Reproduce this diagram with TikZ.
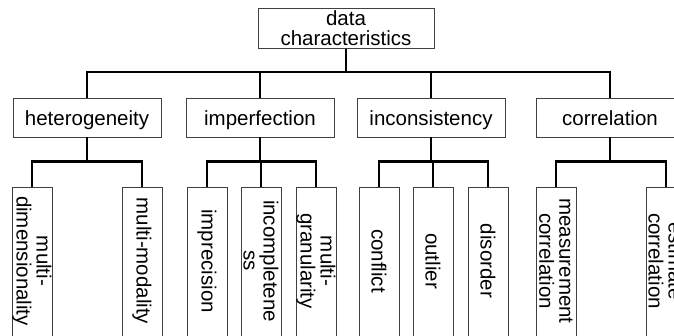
\documentclass[tikz,border=0pt]{standalone}
\usepackage{fontspec}
\setmainfont{Liberation Sans}
\begin{document}
\begin{tikzpicture}[x=1pt,y=-1pt,
  txt/.style={font=\fontsize{20.5}{20}\selectfont},
  box/.style={txt,draw=black!75,line width=0.8pt,inner sep=0pt,align=center},
  topbox/.style={box,minimum width=176pt,minimum height=40pt},
  catbox/.style={box,minimum width=148pt,minimum height=39pt,text height=20pt,text depth=4pt},
  leafbox/.style={draw=black!75,line width=0.8pt,minimum width=40pt,minimum height=170pt,anchor=north,inner sep=0pt},
  leaftext/.style={txt,rotate=-90,align=center,inner sep=0pt},
  conn/.style={line width=2.3pt,black}]
\useasboundingbox (0,0) rectangle (674,336);
\clip (0,0) rectangle (674,336);

\node[topbox] (root) at (346,28.5) {data\\characteristics};
\node[catbox] (het) at (87,117.5) {heterogeneity};
\node[catbox] (imp) at (260,117.5) {imperfection};
\node[catbox] (inc) at (431,117.5) {inconsistency};
\node[catbox] (cor) at (610,117.5) {correlation};

% leaves of heterogeneity
\node[leafbox] (l1) at (32,187) {};
\node[leaftext] (t1) at (32,261) {multi-\\dimensionality};
\node[leafbox] (l2) at (142,187) {};
\node[leaftext] (t2) at (142,261) {multi-modality};
% leaves of imperfection
\node[leafbox] (l3) at (207,187) {};
\node[leaftext] (t3) at (207,261) {imprecision};
\node[leafbox] (l4) at (261,187) {};
\node[leaftext] (t4) at (261,261) {incompletene\\ss};
\node[leafbox] (l5) at (316,187) {};
\node[leaftext] (t5) at (316,261) {multi-\\granularity};
% leaves of inconsistency
\node[leafbox] (l6) at (379,187) {};
\node[leaftext] (t6) at (379,261) {conflict};
\node[leafbox] (l7) at (433,187) {};
\node[leaftext] (t7) at (433,261) {outlier};
\node[leafbox] (l8) at (488,187) {};
\node[leaftext] (t8) at (488,261) {disorder};
% leaves of correlation
\node[leafbox] (l9) at (556,187) {};
\node[leaftext] (t9) at (556,261) {measurement\\correlation};
\node[leafbox] (l10) at (666,187) {};
\node[leaftext] (t10) at (666,261) {estimate\\correlation};

% connectors
\coordinate (bus0) at (346,72);
\draw[conn] (root.south) -- (bus0);
\foreach \n in {het,imp,inc,cor} \draw[conn] (\n.north) |- (bus0);

\foreach \p/\c in {het/l1,het/l2,imp/l3,imp/l4,imp/l5,inc/l6,inc/l7,inc/l8,cor/l9,cor/l10}
  \draw[conn] (\p.south) -- ++(0,24) -| (\c.north);
\end{tikzpicture}
\end{document}
